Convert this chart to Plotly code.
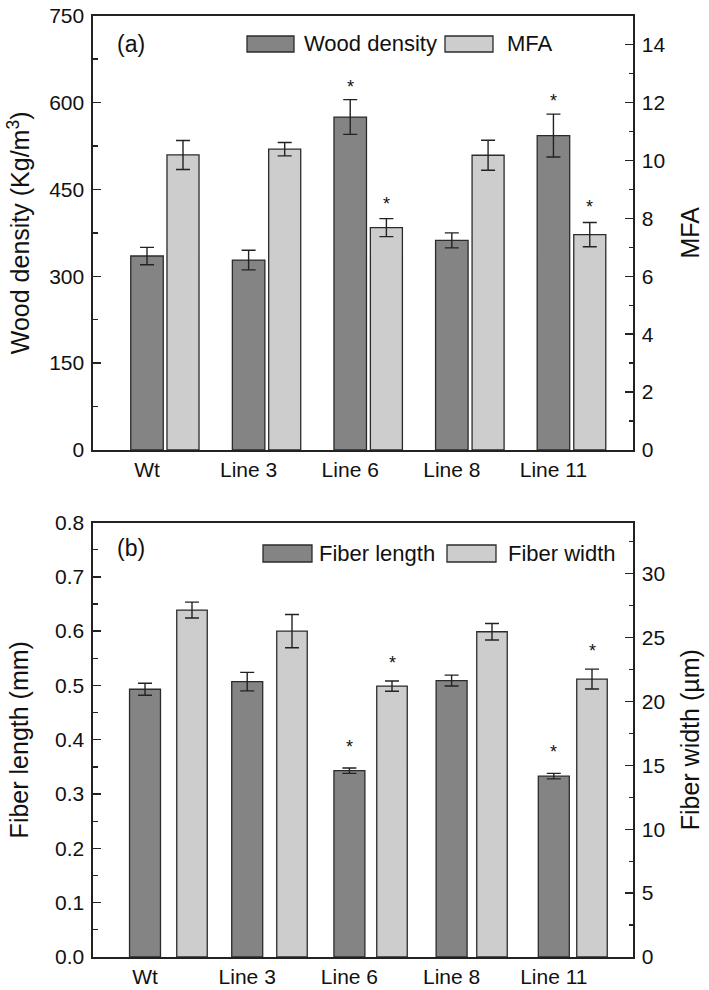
import plotly.graph_objects as go

# ---------------- data ----------------
categories = ["Wt", "Line 3", "Line 6", "Line 8", "Line 11"]

wood_density = [335, 328, 575, 362, 543]
wood_density_err = [15, 17, 30, 13, 37]
mfa = [10.19, 10.39, 7.68, 10.18, 7.44]
mfa_err = [0.5, 0.23, 0.31, 0.52, 0.42]
sig_density = [False, False, True, False, True]
sig_mfa = [False, False, True, False, True]

fiber_length = [0.493, 0.507, 0.343, 0.509, 0.333]
fiber_length_err = [0.011, 0.017, 0.005, 0.010, 0.005]
fiber_width = [27.15, 25.5, 21.2, 25.45, 21.75]
fiber_width_err = [0.62, 1.3, 0.4, 0.65, 0.78]
sig_length = [False, False, True, False, True]
sig_width = [False, False, True, False, True]

yticks_a_left = [0, 150, 300, 450, 600, 750]
yticks_a_right = [0, 2, 4, 6, 8, 10, 12, 14]
yticks_b_left = [0.0, 0.1, 0.2, 0.3, 0.4, 0.5, 0.6, 0.7, 0.8]
yticks_b_right = [0, 5, 10, 15, 20, 25, 30]

# ---------------- styling ----------------
W, H = 709, 990
FONT = "Liberation Sans, Arial, Helvetica, sans-serif"
DARK = "#848484"
LIGHT = "#cdcdcd"
EDGE = "#2b2b2b"
AX = "#222222"


def px(x):
    return x / W


def py(y):
    return 1 - y / H


idx = list(range(len(categories)))

xdom = [px(93), px(633)]
ydom_a = [py(450), py(15.7)]
ydom_b = [py(957), py(522.5)]

fig = go.Figure()

err_style = dict(type="data", color=AX, thickness=1.4, width=7)

# Panel (a)
fig.add_trace(go.Bar(x=idx, y=wood_density, width=0.32,
                     marker=dict(color=DARK, line=dict(color=EDGE, width=1.3)),
                     error_y=dict(array=wood_density_err, **err_style),
                     xaxis="x", yaxis="y", name="Wood density", showlegend=False))
fig.add_trace(go.Bar(x=idx, y=mfa, width=0.315,
                     marker=dict(color=LIGHT, line=dict(color=EDGE, width=1.3)),
                     error_y=dict(array=mfa_err, **err_style),
                     xaxis="x3", yaxis="y2", name="MFA", showlegend=False))

# Panel (b)
fig.add_trace(go.Bar(x=idx, y=fiber_length, width=0.303,
                     marker=dict(color=DARK, line=dict(color=EDGE, width=1.3)),
                     error_y=dict(array=fiber_length_err, **err_style),
                     xaxis="x2", yaxis="y3", name="Fiber length", showlegend=False))
fig.add_trace(go.Bar(x=idx, y=fiber_width, width=0.305,
                     marker=dict(color=LIGHT, line=dict(color=EDGE, width=1.3)),
                     error_y=dict(array=fiber_width_err, **err_style),
                     xaxis="x4", yaxis="y4", name="Fiber width", showlegend=False))

tickfont = dict(family=FONT, size=21, color="#111")
titlefont = dict(family=FONT, size=25, color="#111")


def yaxis_common(**kw):
    d = dict(showline=True, linecolor=AX, linewidth=1.6, ticks="inside",
             ticklen=8, tickwidth=1.4, tickcolor=AX, tickfont=tickfont,
             showgrid=False, zeroline=False, automargin=False,
             ticklabelstandoff=3, ticklabeloverflow="allow")
    d.update(kw)
    return d


xcommon = dict(domain=xdom, showline=True, linecolor=AX, linewidth=1.6,
               mirror=True, ticks="", tickfont=tickfont, showgrid=False,
               zeroline=False, automargin=False, tickmode="array",
               tickvals=idx, ticktext=categories, ticklabelstandoff=0,
               ticklabeloverflow="allow")

fig.update_layout(
    width=W, height=H,
    margin=dict(l=0, r=0, t=0, b=0),
    paper_bgcolor="white", plot_bgcolor="rgba(0,0,0,0)",
    barmode="overlay",
    font=dict(family=FONT, color="#111"),
    showlegend=False,
    xaxis=dict(anchor="y", range=[-0.5315, 4.783], **xcommon),
    xaxis3=dict(overlaying="x", anchor="y", range=[-0.885, 4.425], visible=False),
    xaxis2=dict(anchor="y3", range=[-0.509, 4.775], **xcommon),
    xaxis4=dict(overlaying="x2", anchor="y3", range=[-0.99, 4.41], visible=False),
    yaxis=yaxis_common(domain=ydom_a, anchor="x", range=[0, 750],
                       tickmode="array", tickvals=yticks_a_left,
                       minor=dict(dtick=75, ticks="inside", ticklen=4.5,
                                  tickwidth=1.3, tickcolor=AX),
                       title=dict(text="Wood density (Kg/m<sup>3</sup>)",
                                  font=titlefont, standoff=12)),
    yaxis2=dict(overlaying="y", anchor="x", side="right", range=[0, 15],
                **yaxis_common(tickmode="array", tickvals=yticks_a_right,
                               minor=dict(dtick=1, ticks="inside", ticklen=4.5,
                                          tickwidth=1.3, tickcolor=AX),
                               title=dict(text="MFA", font=titlefont, standoff=17))),
    yaxis3=yaxis_common(domain=ydom_b, anchor="x2", range=[0, 0.8],
                        tickmode="array", tickvals=yticks_b_left, tickformat=".1f",
                        minor=dict(dtick=0.05, ticks="inside", ticklen=4.5,
                                   tickwidth=1.3, tickcolor=AX),
                        title=dict(text="Fiber length (mm)", font=titlefont,
                                   standoff=19)),
    yaxis4=dict(overlaying="y3", anchor="x2", side="right", range=[0, 34],
                **yaxis_common(tickmode="array", tickvals=yticks_b_right,
                               minor=dict(dtick=2.5, ticks="inside", ticklen=4.5,
                                          tickwidth=1.3, tickcolor=AX),
                               title=dict(text="Fiber width (µm)", font=titlefont,
                                          standoff=17))),
)

# significance asterisks
star_font = dict(family=FONT, size=18, color="#111")


def add_stars(vals, errs, sig, xref, yref, shift):
    for i, (v, e, s) in enumerate(zip(vals, errs, sig)):
        if s:
            fig.add_annotation(x=i, y=v + e, xref=xref, yref=yref, text="*",
                               showarrow=False, font=star_font,
                               yanchor="middle", yshift=shift)


add_stars(wood_density, wood_density_err, sig_density, "x", "y", 13)
add_stars(mfa, mfa_err, sig_mfa, "x3", "y2", 15)
add_stars(fiber_length, fiber_length_err, sig_length, "x2", "y3", 21)
add_stars(fiber_width, fiber_width_err, sig_width, "x4", "y4", 18)

# panel labels
fig.add_annotation(x=px(115), y=py(44), xref="paper", yref="paper", text="(a)",
                   showarrow=False, xanchor="left", yanchor="middle",
                   font=dict(family=FONT, size=23, color="#111"))
fig.add_annotation(x=px(115), y=py(548), xref="paper", yref="paper", text="(b)",
                   showarrow=False, xanchor="left", yanchor="middle",
                   font=dict(family=FONT, size=23, color="#111"))

# legends (wide swatches drawn manually)
legfont = dict(family=FONT, size=22, color="#111")


def legend_item(x0, x1, y0, y1, color, label, tx):
    fig.add_shape(type="rect", xref="paper", yref="paper",
                  x0=px(x0), x1=px(x1), y0=py(y1), y1=py(y0),
                  fillcolor=color, line=dict(color=EDGE, width=1.3))
    fig.add_annotation(x=px(tx), y=py((y0 + y1) / 2), xref="paper", yref="paper",
                       text=label, showarrow=False, xanchor="left",
                       yanchor="middle", font=legfont)


legend_item(247, 294, 36, 52, DARK, "Wood density", 302)
legend_item(445, 493, 36, 52, LIGHT, "MFA", 505)
legend_item(263, 312, 545, 562, DARK, "Fiber length", 317)
legend_item(447, 496, 545, 562, LIGHT, "Fiber width", 506)

# remove the default page margin so the 709x990 figure fills the window exactly
fig.write_html("out.html",
               config={"displayModeBar": False, "staticPlot": True},
               post_script="document.body.style.margin='0';"
                           "document.body.style.overflow='hidden';")
